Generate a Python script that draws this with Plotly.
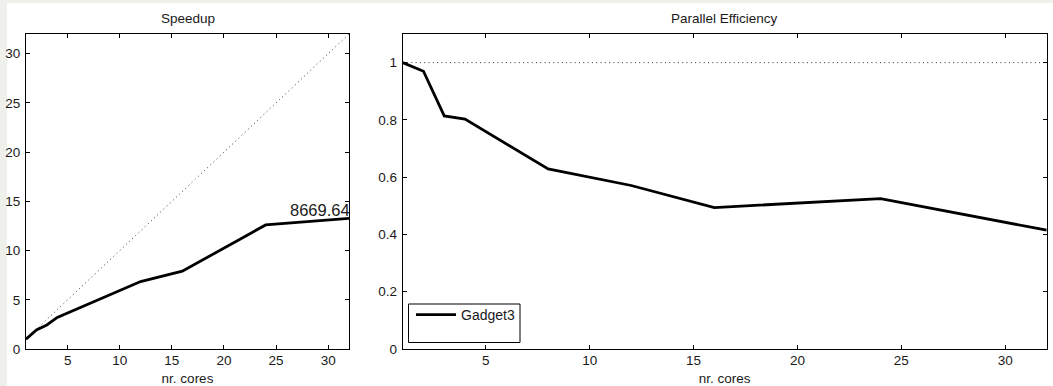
import plotly.graph_objects as go

# ---- data ----
cores = [1, 2, 3, 4, 8, 12, 16, 24, 32]
speedup = [1.0, 1.94, 2.44, 3.21, 5.03, 6.85, 7.9, 12.6, 13.28]
efficiency = [1.0, 0.97, 0.814, 0.803, 0.629, 0.571, 0.494, 0.525, 0.415]
ideal_x = [1, 32]
ideal_speedup = [1, 32]
ideal_eff = [1, 1]
series_name = "Gadget3"
label_text = "8669.64"
label_pos = (32, 14.1)
x_ticks = [5, 10, 15, 20, 25, 30]
speedup_ticks = [0, 5, 10, 15, 20, 25, 30]
eff_ticks = [0, 0.2, 0.4, 0.6, 0.8, 1]
eff_ticklabels = ["0", "0.2", "0.4", "0.6", "0.8", "1"]

W, H = 1053, 386
FONT = "Liberation Sans, Arial, Helvetica, sans-serif"
TXT = "#1a1a1a"

def px(v):
    return v / W

def py(v):
    return 1 - v / H

fig = go.Figure()

dot = dict(color="#333333", width=1, dash="1px,3.3px")
solid = dict(color="black", width=2.8)

fig.add_trace(go.Scatter(x=ideal_x, y=ideal_speedup, mode="lines", line=dot,
                         xaxis="x", yaxis="y", showlegend=False, hoverinfo="skip"))
fig.add_trace(go.Scatter(x=cores, y=speedup, mode="lines", line=solid,
                         xaxis="x", yaxis="y", showlegend=False))
fig.add_trace(go.Scatter(x=ideal_x, y=ideal_eff, mode="lines", line=dot,
                         xaxis="x2", yaxis="y2", showlegend=False, hoverinfo="skip"))
fig.add_trace(go.Scatter(x=cores, y=efficiency, mode="lines", line=solid,
                         xaxis="x2", yaxis="y2", name=series_name, showlegend=True))

ax_common = dict(showline=True, linecolor="black", linewidth=1, mirror="ticks",
                 ticks="inside", ticklen=4, tickcolor="black", tickwidth=1,
                 showgrid=False, zeroline=False, automargin=False,
                 tickfont=dict(family=FONT, size=13.5, color=TXT))

ydom = [py(349), py(34)]
xtitle = dict(text="nr. cores", standoff=6, font=dict(family=FONT, size=13.5, color=TXT))

fig.update_layout(
    width=W, height=H, autosize=False,
    margin=dict(l=0, r=0, t=0, b=0, pad=0),
    paper_bgcolor="#efefeb",
    plot_bgcolor="white",
    font=dict(family=FONT, size=13.5, color=TXT),
    xaxis=dict(domain=[px(26), px(349)], range=[1, 32], tickvals=x_ticks,
               anchor="y", ticklabelstandoff=-1, title=xtitle, **ax_common),
    yaxis=dict(domain=ydom, range=[0, 32], tickvals=speedup_ticks,
               anchor="x", ticklabelstandoff=2, **ax_common),
    xaxis2=dict(domain=[px(402.7), px(1046.7)], range=[1, 32], tickvals=x_ticks,
                anchor="y2", ticklabelstandoff=-1, title=xtitle, **ax_common),
    yaxis2=dict(domain=ydom, range=[0, 1.1], tickvals=eff_ticks,
                ticktext=eff_ticklabels, anchor="x2", ticklabelstandoff=2,
                **ax_common),
    legend=dict(x=px(411), y=py(299), xanchor="left", yanchor="top",
                bgcolor="rgba(0,0,0,0)", borderwidth=0, itemwidth=40,
                font=dict(family=FONT, size=14, color=TXT)),
    shapes=[
        dict(type="rect", xref="paper", yref="paper", x0=px(7), x1=1,
             y0=0, y1=py(3), fillcolor="white", line=dict(width=0), layer="below"),
        dict(type="rect", xref="paper", yref="paper", x0=px(408.5), x1=px(520),
             y0=py(342.5), y1=py(304), fillcolor="white",
             line=dict(color="black", width=1), layer="above"),
    ],
    annotations=[
        dict(text="Speedup", xref="paper", yref="paper", x=px(187.5), y=py(19),
             xanchor="center", yanchor="middle", showarrow=False,
             font=dict(family=FONT, size=13.5, color=TXT)),
        dict(text="Parallel Efficiency", xref="paper", yref="paper", x=px(724.7),
             y=py(19), xanchor="center", yanchor="middle", showarrow=False,
             font=dict(family=FONT, size=13.5, color=TXT)),
        dict(text=label_text, xref="x", yref="y", x=label_pos[0], y=label_pos[1],
             xanchor="right", yanchor="middle", showarrow=False, xshift=3,
             font=dict(family=FONT, size=16.5, color=TXT)),
    ],
)

fig.write_html(
    "out.html",
    config={"displayModeBar": False},
    post_script="document.body.style.margin='0px';document.body.style.overflow='hidden';",
)
